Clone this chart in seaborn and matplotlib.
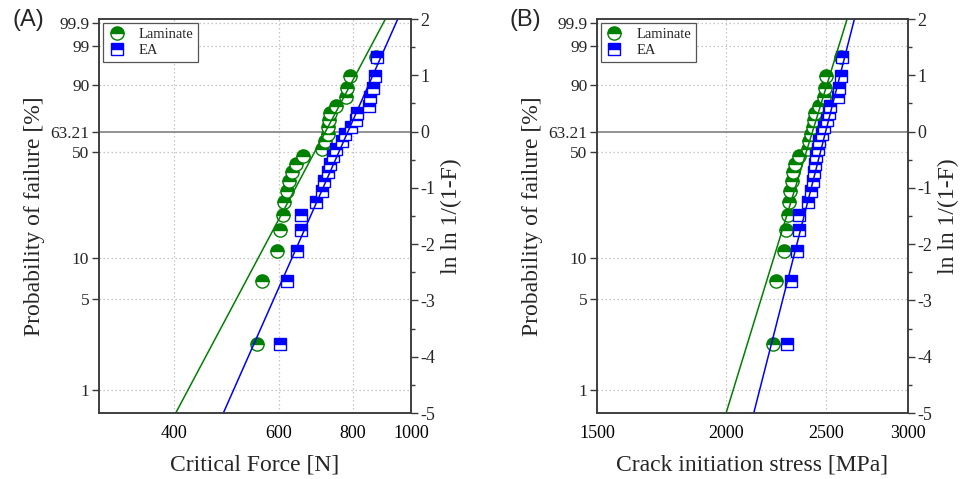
import numpy as np
import matplotlib
matplotlib.use("Agg")
import matplotlib.pyplot as plt
import seaborn as sns
import pandas as pd
from matplotlib.lines import Line2D
from matplotlib.ticker import FixedLocator, NullLocator, MultipleLocator, NullFormatter, FixedFormatter

# ---------------- data ----------------
failure_prob_pct = [2.27, 6.82, 11.36, 15.91, 20.45, 25.00, 29.55, 34.09, 38.64, 43.18, 47.73,
                    52.27, 56.82, 61.36, 65.91, 70.45, 75.00, 79.55, 84.09, 88.64, 93.18, 97.73]

force_laminate = [551, 563, 596, 604, 610, 612, 620, 624, 631, 641, 659,
                  708, 717, 725, 727, 728, 731, 750, 777, 780, 790, 875]
force_ea = [604, 620, 645, 653, 655, 692, 710, 715, 725, 731, 741,
            750, 766, 775, 792, 808, 811, 851, 854, 865, 871, 877]

stress_laminate = [2219, 2236, 2277, 2286, 2294, 2299, 2308, 2314, 2320, 2331, 2355,
                   2399, 2408, 2417, 2425, 2435, 2440, 2458, 2489, 2493, 2499, 2586]
stress_ea = [2289, 2312, 2341, 2351, 2355, 2399, 2417, 2425, 2432, 2437, 2443,
             2453, 2462, 2477, 2487, 2505, 2517, 2519, 2564, 2570, 2584, 2590]

# Weibull fit lines: (shape m, scale eta)
fit_force_laminate = (8.65, 719)
fit_force_ea = (10.4, 784)
fit_stress_laminate = (25.96, 2425)
fit_stress_ea = (31.2, 2497)

prob_ticks = [1, 5, 10, 50, 63.21, 90, 99, 99.9]
prob_tick_labels = ["1", "5", "10", "50", "63.21", "90", "99", "99.9"]
prob_grid = [1, 5, 10, 50, 90, 99, 99.9]
lnln_ticks = [-5, -4, -3, -2, -1, 0, 1, 2]

force_ticks = [400, 600, 800, 1000]
stress_ticks = [1500, 2000, 2500, 3000]

series_names = ["Laminate", "EA"]
series_colors = ["green", "blue"]
series_markers = ["o", "s"]


def lnln(p_pct):
    p = np.asarray(p_pct, dtype=float) / 100.0
    return np.log(-np.log(1.0 - p))


# ---------------- figure ----------------
sns.set_style("white")
plt.rcParams["font.family"] = ["Liberation Serif", "DejaVu Serif"]
plt.rcParams["axes.unicode_minus"] = False

fig = plt.figure(figsize=(9.62, 4.79), dpi=100)

panels = [
    dict(rect=[99 / 962, 66 / 479, 312 / 962, 394 / 479], xlim=(300, 1000), xticks=force_ticks,
         xlabel="Critical Force [N]", data=[force_laminate, force_ea],
         fits=[fit_force_laminate, fit_force_ea], tag="(A)", tagx=12 / 962),
    dict(rect=[597 / 962, 66 / 479, 311 / 962, 394 / 479], xlim=(1500, 3000), xticks=stress_ticks,
         xlabel="Crack initiation stress [MPa]", data=[stress_laminate, stress_ea],
         fits=[fit_stress_laminate, fit_stress_ea], tag="(B)", tagx=510 / 962),
]

spine_color = "#3a3a3a"
grid_kw = dict(color="#c4c4c4", linestyle=(0, (1.2, 2.0)), linewidth=0.9, zorder=0)

for pan in panels:
    ax = fig.add_axes(pan["rect"])
    ax.set_xscale("log")
    ax.set_xlim(*pan["xlim"])
    ax.set_ylim(-5, 2)

    # grid
    for xv in pan["xticks"][:-1]:
        ax.axvline(xv, **grid_kw)
    for pv in prob_grid:
        ax.axhline(lnln(pv), **grid_kw)
    ax.axhline(0, color="#8a8a8a", linewidth=1.3, zorder=1)

    handles = []
    for vals, fit, name, col, mk in zip(pan["data"], pan["fits"], series_names,
                                         series_colors, series_markers):
        df = pd.DataFrame({"x": vals, "y": lnln(failure_prob_pct)})
        ms = 9.5 if mk == "o" else 8.3
        sns.lineplot(data=df, x="x", y="y", ax=ax, sort=False, estimator=None,
                     linestyle="", marker=mk, markersize=ms, fillstyle="top",
                     color=col, markerfacecolor=col, markerfacecoloralt="white",
                     markeredgecolor=col, markeredgewidth=1.0, legend=False, zorder=3)
        m, eta = fit
        yy = np.array([-5.0, 2.0])
        line_df = pd.DataFrame({"x": eta * np.exp(yy / m), "y": yy})
        sns.lineplot(data=line_df, x="x", y="y", ax=ax, sort=False, estimator=None,
                     color=col, linewidth=1.1, legend=False, zorder=4)
        handles.append(Line2D([], [], linestyle="", marker=mk, markersize=ms, fillstyle="top",
                              color=col, markerfacecolor=col, markerfacecoloralt="white",
                              markeredgecolor=col, markeredgewidth=1.0, label=name))

    # x axis
    ax.xaxis.set_major_locator(FixedLocator(pan["xticks"]))
    ax.xaxis.set_major_formatter(FixedFormatter([str(v) for v in pan["xticks"]]))
    ax.xaxis.set_minor_locator(NullLocator())
    ax.xaxis.set_minor_formatter(NullFormatter())
    ax.tick_params(axis="x", length=0, pad=9, labelsize=13, colors="black")
    ax.set_xlabel(pan["xlabel"], fontsize=17, labelpad=9)

    # left y axis (probability)
    ax.yaxis.set_major_locator(FixedLocator(lnln(prob_ticks)))
    ax.yaxis.set_major_formatter(FixedFormatter(prob_tick_labels))
    ax.yaxis.set_minor_locator(NullLocator())
    ax.tick_params(axis="y", direction="out", length=5, width=1, color=spine_color,
                   labelsize=12.5, pad=2)
    ax.set_ylabel("Probability of failure [%]", fontsize=17, labelpad=4)

    # right y axis
    ax2 = ax.twinx()
    ax2.set_ylim(-5, 2)
    ax2.yaxis.set_major_locator(FixedLocator(lnln_ticks))
    ax2.yaxis.set_minor_locator(MultipleLocator(0.5))
    ax2.tick_params(axis="y", which="major", direction="out", length=5, width=1,
                    color=spine_color, labelsize=13, pad=2)
    ax2.tick_params(axis="y", which="minor", direction="out", length=3, width=1,
                    color=spine_color)
    ax2.set_ylabel("ln ln 1/(1-F)", fontsize=17, labelpad=4)

    for a in (ax, ax2):
        for sp in a.spines.values():
            sp.set_color(spine_color)
            sp.set_linewidth(1.1)
            sp.set_visible(True)

    leg = ax.legend(handles=handles, loc="upper left", fontsize=10.5, frameon=True,
                    fancybox=False, edgecolor="#555555", framealpha=1,
                    borderpad=0.35, handletextpad=0.9, labelspacing=0.2,
                    borderaxespad=0.25, handlelength=1.2)
    leg.get_frame().set_linewidth(0.9)
    leg.set_zorder(10)

    fig.text(pan["tagx"], 1 - 20 / 479, pan["tag"], fontsize=17,
             family=["Liberation Sans", "DejaVu Sans"], va="center", ha="left")

fig.savefig("out.png", dpi=100)
